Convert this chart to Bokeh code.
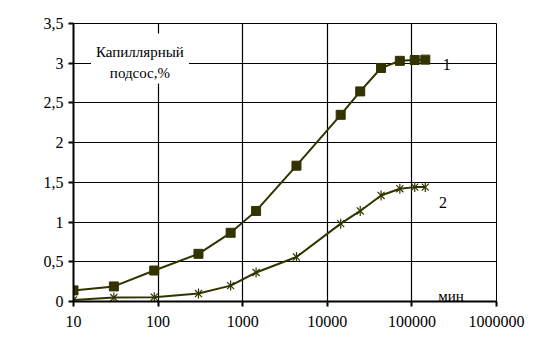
import math
from bokeh.plotting import figure
from bokeh.models import Range1d, FixedTicker, Label, BoxAnnotation
from bokeh.embed import file_html
from bokeh.resources import INLINE

# data
time_min = [10, 30, 90, 300, 720, 1440, 4320, 14400, 24500, 43200, 72000, 108000, 144000]
series1 = [0.14, 0.19, 0.39, 0.60, 0.865, 1.14, 1.71, 2.35, 2.645, 2.94, 3.03, 3.04, 3.045]
series2 = [0.02, 0.05, 0.055, 0.10, 0.20, 0.365, 0.56, 0.98, 1.14, 1.335, 1.42, 1.44, 1.44]
x_ticks = [10, 100, 1000, 10000, 100000, 1000000]
x_tick_labels = ["10", "100", "1000", "10000", "100000", "1000000"]
y_ticks = [0, 0.5, 1, 1.5, 2, 2.5, 3, 3.5]
y_tick_labels = ["0", "0,5", "1", "1,5", "2", "2,5", "3", "3,5"]
title_lines = ["Капиллярный", "подсос,%"]
series_names = ["1", "2"]
unit_label = "мин"

FONT = "'Liberation Serif', 'Times New Roman', 'DejaVu Serif', serif"
COL = "#333300"

p = figure(width=555, height=356, x_axis_type="log", output_backend="svg",
           toolbar_location=None, x_range=Range1d(10, 1e6), y_range=Range1d(0, 3.5),
           min_border_left=73, min_border_right=59, min_border_top=23, min_border_bottom=55)
p.background_fill_color = "white"
p.border_fill_color = "white"
p.outline_line_color = "black"
p.outline_line_width = 1

for ax in (p.xaxis[0], p.yaxis[0]):
    ax.axis_line_color = "black"
    ax.axis_line_width = 2
    ax.major_tick_line_color = "black"
    ax.major_tick_line_width = 2
    ax.major_tick_out = 5
    ax.major_tick_in = 0
    ax.minor_tick_line_color = None
    ax.major_label_text_font = FONT
    ax.major_label_text_font_size = "16px"
    ax.major_label_text_color = "black"

p.xaxis[0].ticker = FixedTicker(ticks=x_ticks, minor_ticks=[])
p.xaxis[0].major_label_overrides = {t: l for t, l in zip(x_ticks, x_tick_labels)}
p.xaxis[0].major_label_standoff = 9
p.yaxis[0].ticker = FixedTicker(ticks=y_ticks, minor_ticks=[])
p.yaxis[0].major_label_overrides = {t: l for t, l in zip(y_ticks, y_tick_labels)}
p.yaxis[0].major_label_standoff = 5

p.xgrid[0].ticker = FixedTicker(ticks=x_ticks, minor_ticks=[])
p.ygrid[0].ticker = FixedTicker(ticks=y_ticks, minor_ticks=[])
for g in (p.xgrid[0], p.ygrid[0]):
    g.grid_line_color = "black"
    g.grid_line_width = 1.2
    g.grid_line_alpha = 1

# series 1
p.line(time_min, series1, line_color=COL, line_width=2)
p.scatter(time_min, series1, marker="square", size=9, fill_color=COL, line_color=COL)
# series 2
p.line(time_min, series2, line_color=COL, line_width=2)
p.scatter(time_min, series2, marker="x", size=10, line_color=COL, line_width=1.2)
p.scatter(time_min, series2, marker="dash", size=10, angle=math.pi / 2, line_color=COL, line_width=1.2)

# y-axis title box
p.add_layout(BoxAnnotation(left=16.1, right=231.7, bottom=2.745, top=3.375,
                           fill_color="white", fill_alpha=1, line_color=None))
p.add_layout(Label(x=61, y=3.14, text=title_lines[0], text_align="center",
                   text_baseline="alphabetic", text_font=FONT, text_font_size="15px", text_color="black"))
p.add_layout(Label(x=61, y=2.875, text=title_lines[1], text_align="center",
                   text_baseline="alphabetic", text_font=FONT, text_font_size="15px", text_color="black"))

p.add_layout(Label(x=231000, y=2.99, text=series_names[0], text_align="left",
                   text_baseline="alphabetic", text_font=FONT, text_font_size="16px", text_color="black"))
p.add_layout(Label(x=209000, y=1.25, text=series_names[1], text_align="left",
                   text_baseline="alphabetic", text_font=FONT, text_font_size="16px", text_color="black"))
p.add_layout(Label(x=205000, y=0.063, text=unit_label, text_align="left",
                   text_baseline="alphabetic", text_font=FONT, text_font_size="15px", text_color="black"))

open("out.html", "w").write(file_html(p, INLINE))
